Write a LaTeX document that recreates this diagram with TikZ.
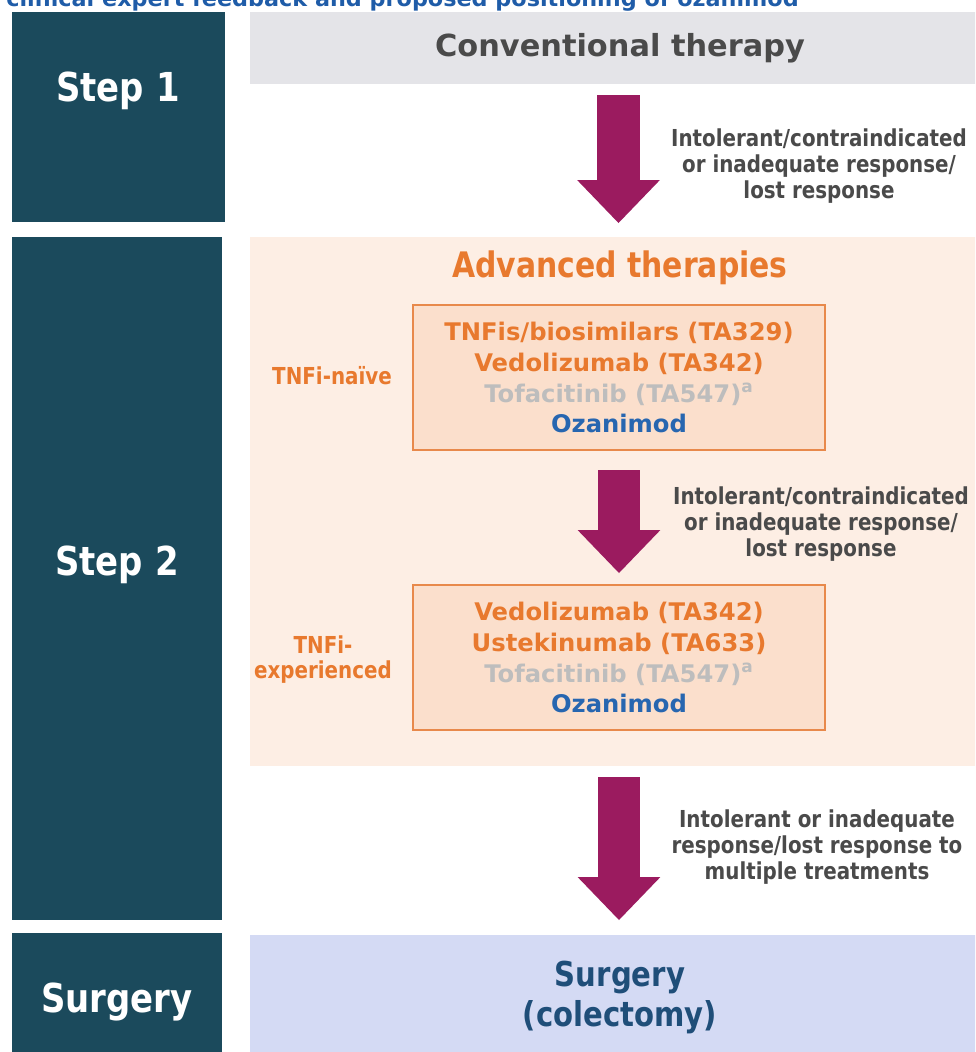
\documentclass[tikz,border=0pt]{standalone}
\usepackage{fontspec}
\setmainfont{DejaVu Sans}
\newfontfamily\condfont[FakeStretch=0.85]{DejaVu Sans}
\usetikzlibrary{arrows.meta}

\definecolor{stepteal}{HTML}{1B4A5C}
\definecolor{convgray}{HTML}{E4E4E8}
\definecolor{advpeach}{HTML}{FDEEE4}
\definecolor{boxpeach}{HTML}{FBDFCC}
\definecolor{advorange}{HTML}{E8792E}
\definecolor{boxline}{HTML}{E8894B}
\definecolor{tofagray}{HTML}{BDBDBD}
\definecolor{ozablue}{HTML}{2766B0}
\definecolor{labelgray}{HTML}{4A4A4A}
\definecolor{arrowpurple}{HTML}{9B1B5F}
\definecolor{surglav}{HTML}{D4DAF4}
\definecolor{surgblue}{HTML}{1F4E79}
\definecolor{titleblue}{HTML}{1F5CA8}

\newcommand{\pu}{0.02cm}

\tikzset{
  stepbox/.style={fill=stepteal, inner sep=0pt},
  steptext/.style={text=white, font=\condfont\bfseries\fontsize{22.7}{27}\selectfont},
  band/.style={inner sep=0pt, align=center},
  drugbox/.style={fill=boxpeach, draw=boxline, line width=1.2pt, inner sep=0pt,
    minimum width=412*\pu, minimum height=145*\pu, align=center,
    font=\bfseries\fontsize{13.8}{17.6}\selectfont},
  linetext/.style={text=advorange, align=center, font=\condfont\bfseries\fontsize{13.3}{14.2}\selectfont},
  reason/.style={text=labelgray, align=center, font=\condfont\bfseries\fontsize{13.3}{14.7}\selectfont},
  bigarrow/.style={draw=arrowpurple, line width=24.4pt,
    -{Triangle[width=47pt,length=24.4pt,line width=0pt]}},
}

\begin{document}
\begin{tikzpicture}[x=\pu,y=-\pu]
\useasboundingbox (0,0) rectangle (975,1052);
\clip (0,0) rectangle (975,1052);

% titre coupé en haut
\node[anchor=base west, inner sep=0pt, text=titleblue, font=\bfseries\fontsize{12.7}{15}\selectfont] (title) at (6,6) {clinical expert feedback and proposed positioning of ozanimod};

% colonne de gauche
\node[stepbox, minimum width=213*\pu, minimum height=210*\pu] (s1box) at (118.5,117) {};
\node[stepbox, minimum width=210*\pu, minimum height=683*\pu] (s2box) at (117,578.5) {};
\node[stepbox, minimum width=210*\pu, minimum height=127*\pu] (s3box) at (117,996.5) {};
\node[steptext, anchor=base] (s1) at (118,101) {Step 1};
\node[steptext, anchor=base] (s2) at (117,575) {Step 2};
\node[steptext, anchor=base] (s3) at (117,1012) {Surgery};

% bandes de droite
\node[band, fill=convgray, minimum width=740*\pu, minimum height=72*\pu, text=labelgray,
  font=\bfseries\fontsize{17.3}{20}\selectfont] (conv) at (620,48) {Conventional therapy};
\node[band, fill=advpeach, minimum width=740*\pu, minimum height=529*\pu] (adv) at (620,501.5) {};
\node[band, fill=surglav, minimum width=740*\pu, minimum height=125*\pu, text=surgblue,
  font=\condfont\bfseries\fontsize{19.5}{22.7}\selectfont] (surg) at (620,997.5) {Surgery\\(colectomy)};
\node[text=advorange, font=\condfont\bfseries\fontsize{20}{24}\selectfont] (advtitle) at (620,268) {Advanced therapies};

% les deux lignes de traitement
\node[drugbox] (naive) at (619,377.5) {\textcolor{advorange}{TNFis/biosimilars (TA329)}\\
  \textcolor{advorange}{Vedolizumab (TA342)}\\
  \textcolor{tofagray}{Tofacitinib (TA547)\textsuperscript{a}}\\
  \textcolor{ozablue}{Ozanimod}};
\node[drugbox] (exp) at (619,657.5) {\textcolor{advorange}{Vedolizumab (TA342)}\\
  \textcolor{advorange}{Ustekinumab (TA633)}\\
  \textcolor{tofagray}{Tofacitinib (TA547)\textsuperscript{a}}\\
  \textcolor{ozablue}{Ozanimod}};
\node[linetext] (naivelbl) at (332,376) {TNFi-naïve};
\node[linetext, font=\condfont\bfseries\fontsize{13.3}{14.2}\selectfont] (explbl) at (323,660) {TNFi-\\experienced};

% flèches
\coordinate (a1top) at (618.5,95);
\coordinate (a1tip) at (618.5,223);
\coordinate (a2top) at (619,470);
\coordinate (a2tip) at (619,573);
\coordinate (a3top) at (619,777);
\coordinate (a3tip) at (619,920);
\draw[bigarrow] (a1top) -- (a1tip);
\draw[bigarrow] (a2top) -- (a2tip);
\draw[bigarrow] (a3top) -- (a3tip);
\node[reason] (r1) at (819,166) {Intolerant/contraindicated\\or inadequate response/\\lost response};
\node[reason] (r2) at (821,524) {Intolerant/contraindicated\\or inadequate response/\\lost response};
\node[reason] (r3) at (817,847) {Intolerant or inadequate\\response/lost response to\\multiple treatments};
\end{tikzpicture}
\end{document}
